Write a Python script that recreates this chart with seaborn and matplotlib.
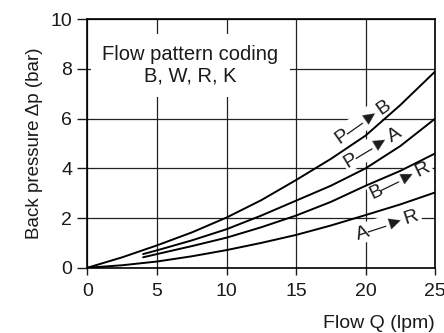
import pandas as pd
import matplotlib.pyplot as plt
import seaborn as sns

# Flow Q (lpm) and back pressure (bar)
q_pb = [0, 2.5, 5, 7.5, 10, 12.5, 15, 17.5, 20, 22.5, 25]
p_pb = [0, 0.42, 0.9, 1.42, 2.02, 2.72, 3.53, 4.38, 5.32, 6.55, 7.9]

q_pa = [4, 5, 7.5, 10, 12.5, 15, 17.5, 20, 22.5, 25]
p_pa = [0.55, 0.7, 1.1, 1.55, 2.1, 2.7, 3.3, 4.0, 4.9, 6.0]

q_br = [4, 5, 7.5, 10, 12.5, 15, 17.5, 20, 22.5, 25]
p_br = [0.42, 0.55, 0.87, 1.21, 1.63, 2.1, 2.65, 3.3, 3.9, 4.6]

q_ar = [0, 2.5, 5, 7.5, 10, 12.5, 15, 17.5, 20, 22.5, 25]
p_ar = [0, 0.1, 0.25, 0.46, 0.71, 1.0, 1.32, 1.7, 2.12, 2.55, 3.03]

curve_names = ['P—►B', 'P—►A', 'B—►R', 'A—►R']
x_ticks = [0, 5, 10, 15, 20, 25]
y_ticks = [0, 2, 4, 6, 8, 10]

df = pd.concat([
    pd.DataFrame({'Q': q_pb, 'p': p_pb, 'curve': curve_names[0]}),
    pd.DataFrame({'Q': q_pa, 'p': p_pa, 'curve': curve_names[1]}),
    pd.DataFrame({'Q': q_br, 'p': p_br, 'curve': curve_names[2]}),
    pd.DataFrame({'Q': q_ar, 'p': p_ar, 'curve': curve_names[3]}),
], ignore_index=True)

sns.set_style("ticks")
plt.rcParams['font.family'] = ['Liberation Sans', 'DejaVu Sans']
txt = '#1a1a1a'

fig = plt.figure(figsize=(4.44, 3.33), dpi=100)
ax = fig.add_axes([0.197, 0.196, 0.783, 0.746])

for name in curve_names:
    sns.lineplot(data=df[df['curve'] == name], x='Q', y='p', color='black',
                 linewidth=1.4, ax=ax, legend=False, zorder=3)

ax.set_xlim(0, 25)
ax.set_ylim(0, 10)
ax.set_xticks(x_ticks)
ax.set_yticks(y_ticks)
ax.grid(True, color='#222222', linewidth=0.9)
ax.set_axisbelow(True)
for s in ax.spines.values():
    s.set_color('black')
    s.set_linewidth(1.2)

ax.tick_params(axis='x', length=5, width=1, pad=6, labelsize=14, colors=txt)
ax.tick_params(axis='y', length=7, width=1, pad=4, labelsize=14, colors=txt)
ax.set_ylabel('Back pressure Δp (bar)', fontsize=13.5, color=txt, labelpad=5)
ax.set_xlabel('Flow Q (lpm)', fontsize=14, color=txt, loc='right', labelpad=11)

# legend box with coding text
ax.text(7.4, 8.15, 'Flow pattern coding\nB, W, R, K', ha='center', va='center',
        fontsize=14.5, color=txt, linespacing=1.2, zorder=2,
        bbox=dict(facecolor='white', edgecolor='none', pad=8))

# curve labels
labels = [(19.8, 5.9, 35), (20.5, 4.85, 31), (22.5, 3.5, 26), (21.6, 1.72, 18)]
for name, (lx, ly, rot) in zip(curve_names, labels):
    ax.text(lx, ly, name, ha='center', va='center', rotation=rot, fontsize=14,
            color=txt, zorder=2,
            bbox=dict(facecolor='white', edgecolor='none', pad=1))

plt.savefig('out.png', dpi=100)
